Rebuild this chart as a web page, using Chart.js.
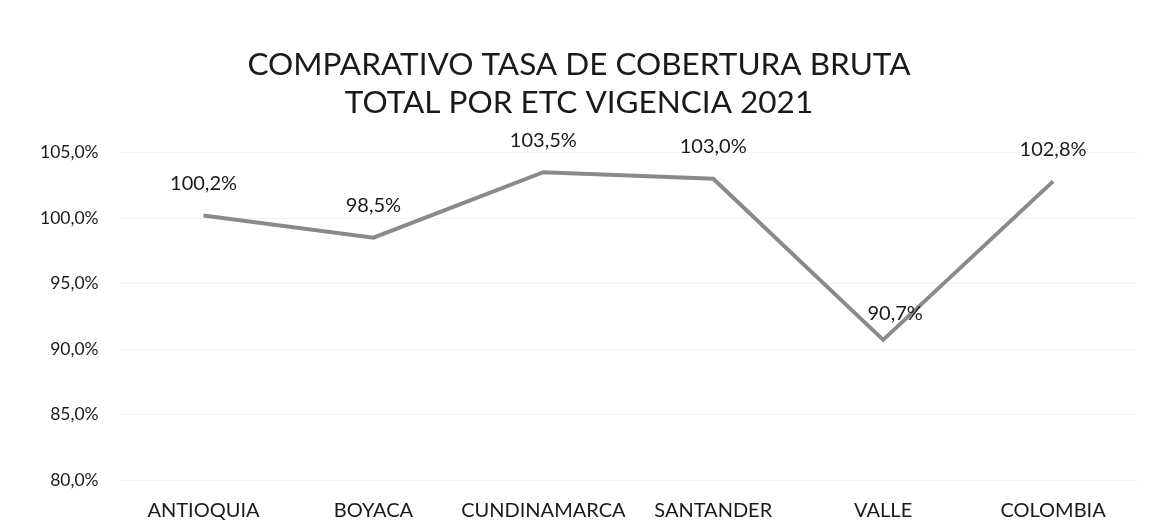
<!DOCTYPE html>
<html>
<head>
<meta charset="utf-8">
<script src="https://cdn.jsdelivr.net/npm/chart.js@4/dist/chart.umd.min.js"></script>
<style>
  html, body { margin: 0; padding: 0; background: #fff; }
  #wrap { width: 1158px; height: 525px; }
</style>
</head>
<body>
<div id="wrap"><canvas id="tcb" width="1158" height="525"></canvas></div>
<script>
// Datos del grafico
const etcs = ['ANTIOQUIA', 'BOYACA', 'CUNDINAMARCA', 'SANTANDER', 'VALLE', 'COLOMBIA'];
const tasaCobertura = [100.2, 98.5, 103.5, 103.0, 90.7, 102.8];
const yTicks = [80, 85, 90, 95, 100, 105];
const titleLines = ['COMPARATIVO TASA DE COBERTURA BRUTA', 'TOTAL POR ETC VIGENCIA 2021'];

const fontFamily = 'Lato, "Open Sans", sans-serif';

// formato con coma decimal
function pct(v) {
    return v.toFixed(1).replace('.', ',') + '%';
}

// Etiquetas encima de cada punto
const valueLabels = {
    id: 'valueLabels',
    afterDatasetsDraw(chart) {
        const ctx = chart.ctx;
        const meta = chart.getDatasetMeta(0);
        ctx.save();
        ctx.font = '20px ' + fontFamily;
        ctx.fillStyle = '#1a1a1a';
        ctx.textAlign = 'center';
        ctx.textBaseline = 'middle';
        meta.data.forEach((pt, i) => {
            let dx = 0, dy = 32;
            // la etiqueta de VALLE queda montada sobre la linea
            if (i === 4) { dx = 12; dy = 26; }
            ctx.fillText(pct(tasaCobertura[i]), pt.x + dx, pt.y - dy);
        });
        ctx.restore();
    }
};

let ctx = document.getElementById('tcb').getContext('2d');
let chart = new Chart(ctx, {
    type: 'line',
    data: {
        labels: etcs,
        datasets: [{
            label: 'Tasa de cobertura bruta',
            data: tasaCobertura,
            borderColor: '#8a8a8a',
            borderWidth: 4,
            pointRadius: 0,
            tension: 0,
            fill: false
        }]
    },
    options: {
        responsive: false,
        animation: false,
        layout: { padding: { left: 20, right: 20, top: 0, bottom: -9 } },
        plugins: {
            legend: { display: false },
            tooltip: { enabled: false },
            title: {
                display: true,
                text: titleLines,
                color: '#1a1a1a',
                font: { family: fontFamily, size: 31.5, weight: 'normal', lineHeight: 1.2 },
                padding: { top: 46, bottom: 31 }
            }
        },
        scales: {
            x: {
                offset: true,
                grid: { display: false },
                border: { display: false },
                ticks: {
                    color: '#1a1a1a',
                    padding: 11,
                    font: { family: fontFamily, size: 20 },
                    maxRotation: 0,
                    autoSkip: false
                }
            },
            y: {
                min: 80,
                max: 105,
                afterBuildTicks(axis) {
                    axis.ticks = yTicks.map(v => ({ value: v }));
                },
                grid: { color: '#f2f2f2', drawTicks: false },
                border: { display: false },
                ticks: {
                    color: '#1a1a1a',
                    padding: 20,
                    font: { family: fontFamily, size: 17.5 },
                    callback: v => pct(v)
                }
            }
        }
    },
    plugins: [valueLabels]
});
</script>
</body>
</html>
